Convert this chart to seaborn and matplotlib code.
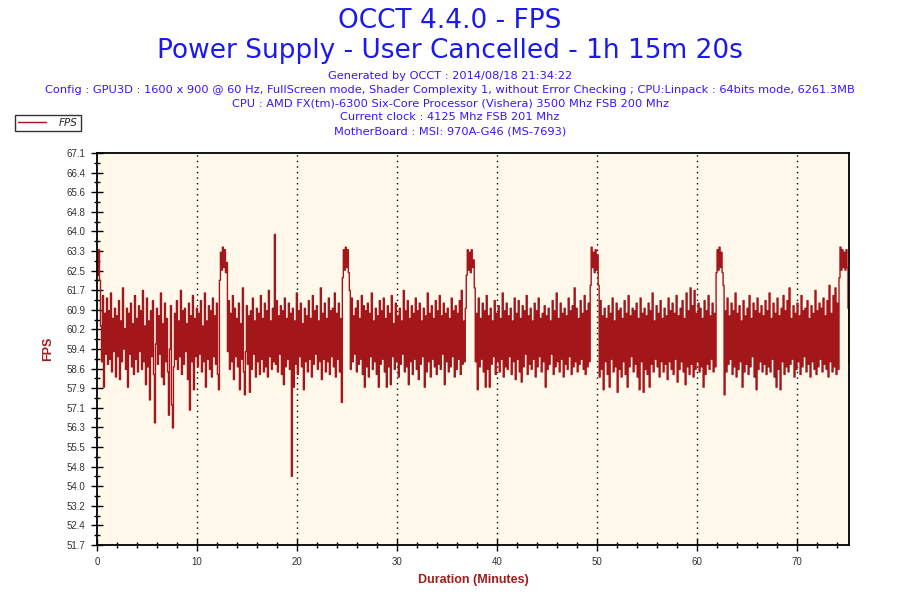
import numpy as np
import pandas as pd
import seaborn as sns
import matplotlib.pyplot as plt
from matplotlib.ticker import FixedLocator, MultipleLocator

sns.set_theme(style="white")
plt.rcParams["font.family"] = ["DejaVu Sans"]

#%% data (one sample every 0.1 minute)
step_min = 0.1
fps = [
    63.2, 62.3, 63.3, 62.1, 60.3, 58.9, 61.5, 57.9, 60.8, 59.2,
    61.4, 58.8, 60.9, 59.0, 61.6, 58.5, 60.6, 59.3, 61.0, 58.3,
    60.7, 59.1, 61.3, 58.2, 60.5, 58.9, 61.8, 59.4, 60.2, 58.6,
    61.0, 57.9, 60.8, 59.2, 61.2, 58.7, 60.4, 58.4, 61.5, 59.0,
    60.6, 58.5, 61.1, 59.3, 60.9, 58.6, 61.7, 58.9, 60.3, 58.0,
    61.4, 58.7, 60.5, 57.4, 60.9, 59.1, 61.3, 58.4, 56.5, 59.6,
    61.0, 58.8, 60.7, 59.2, 61.6, 58.3, 60.4, 58.0, 61.2, 58.9,
    60.6, 58.5, 56.8, 59.4, 61.1, 57.2, 56.3, 58.7, 60.8, 59.0,
    61.3, 58.6, 60.5, 59.1, 61.7, 58.4, 60.9, 58.8, 61.0, 59.3,
    60.4, 58.2, 61.2, 57.0, 60.7, 58.9, 61.5, 57.8, 60.6, 59.1,
    61.0, 58.7, 60.8, 59.2, 61.3, 58.5, 60.3, 58.9, 61.6, 57.9,
    60.5, 59.0, 61.1, 58.6, 60.9, 58.3, 61.4, 59.1, 60.7, 58.8,
    61.2, 58.4, 57.8, 62.1, 63.2, 62.5, 63.4, 62.6, 63.3, 62.4,
    62.8, 59.3, 61.3, 58.6, 60.8, 58.9, 61.5, 58.2, 61.0, 59.1,
    60.6, 58.7, 61.2, 57.8, 60.4, 59.0, 61.8, 58.5, 57.6, 59.3,
    61.1, 58.8, 60.7, 57.7, 60.9, 58.6, 61.4, 59.2, 60.5, 58.3,
    61.0, 58.9, 60.8, 58.4, 61.5, 59.0, 60.6, 58.5, 61.2, 58.7,
    60.9, 58.3, 61.7, 59.1, 60.5, 58.6, 61.0, 58.9, 63.9, 58.8,
    61.3, 58.5, 60.7, 59.2, 61.1, 58.4, 60.9, 58.0, 61.4, 58.7,
    60.6, 59.0, 61.2, 58.6, 60.8, 54.4, 61.0, 57.9, 60.5, 58.8,
    61.6, 58.4, 60.9, 59.1, 61.2, 58.7, 60.4, 57.8, 61.0, 58.9,
    60.7, 58.5, 61.3, 59.0, 60.6, 58.3, 61.5, 58.8, 60.9, 59.2,
    61.1, 58.6, 60.5, 58.9, 61.8, 58.2, 60.8, 59.0, 61.2, 58.5,
    60.6, 58.9, 61.4, 58.4, 60.9, 59.1, 61.0, 58.7, 61.6, 58.3,
    60.8, 59.0, 61.2, 58.5, 60.6, 57.3, 62.2, 63.3, 62.5, 63.4,
    62.6, 63.3, 62.4, 61.7, 58.6, 61.4, 58.9, 60.7, 59.2, 61.0,
    58.5, 61.3, 58.8, 60.6, 59.0, 61.5, 58.4, 61.1, 57.9, 60.9,
    58.7, 61.2, 58.3, 60.8, 59.1, 61.6, 58.6, 60.5, 58.9, 61.0,
    58.4, 60.7, 57.9, 61.3, 58.8, 60.9, 59.0, 61.4, 58.5, 60.6,
    57.9, 61.1, 58.7, 60.8, 58.0, 61.5, 59.1, 60.4, 58.6, 61.2,
    58.9, 60.7, 58.3, 61.0, 58.8, 60.5, 59.2, 61.7, 58.5, 60.9,
    58.7, 61.3, 58.0, 60.6, 58.9, 61.1, 58.4, 60.8, 59.0, 61.4,
    58.6, 60.9, 58.2, 61.2, 58.8, 60.5, 59.1, 61.0, 57.9, 60.7,
    58.5, 61.6, 58.9, 60.8, 58.3, 61.1, 59.0, 60.6, 58.7, 61.3,
    58.4, 60.9, 58.8, 61.5, 58.6, 60.7, 59.2, 61.2, 58.0, 60.8,
    58.9, 61.0, 58.5, 60.6, 58.7, 61.4, 59.1, 60.9, 58.3, 61.1,
    58.6, 60.8, 59.0, 61.3, 58.4, 61.7, 58.8, 60.5, 58.9, 61.0,
    62.3, 63.3, 62.5, 63.2, 62.4, 63.3, 62.6, 62.9, 61.8, 58.9,
    60.8, 57.8, 61.4, 58.7, 60.6, 59.0, 61.2, 58.5, 60.9, 57.9,
    61.5, 58.6, 60.7, 57.9, 61.0, 58.8, 60.5, 59.1, 61.3, 58.4,
    60.8, 58.9, 61.1, 58.5, 60.6, 59.0, 61.6, 58.3, 60.9, 58.7,
    61.2, 58.6, 60.7, 59.1, 61.0, 58.4, 60.5, 58.9, 61.4, 58.2,
    60.8, 59.0, 61.3, 58.5, 60.6, 58.1, 61.1, 58.7, 60.9, 59.2,
    61.5, 58.4, 60.7, 58.8, 61.0, 58.6, 60.5, 59.0, 61.2, 58.3,
    60.9, 58.7, 61.4, 59.1, 60.6, 58.5, 60.8, 58.9, 61.1, 57.9,
    60.7, 58.6, 61.0, 58.8, 60.5, 59.2, 61.3, 58.4, 60.9, 58.7,
    61.6, 58.9, 60.6, 58.5, 61.2, 59.0, 60.8, 58.3, 61.0, 58.8,
    60.7, 58.6, 61.4, 59.1, 60.9, 58.4, 61.1, 58.7, 61.8, 58.9,
    61.0, 58.5, 60.6, 58.8, 61.3, 59.0, 60.8, 58.6, 61.5, 58.4,
    60.9, 58.7, 61.2, 58.9, 61.9, 63.4, 62.6, 63.2, 62.4, 63.3,
    62.5, 63.1, 61.9, 58.3, 61.3, 58.6, 60.7, 57.8, 61.0, 58.9,
    60.6, 58.4, 61.1, 57.9, 60.8, 59.0, 61.4, 58.5, 60.5, 58.7,
    61.2, 57.7, 60.9, 58.6, 61.0, 58.3, 60.6, 58.9, 61.3, 58.4,
    60.8, 57.9, 61.5, 58.7, 60.7, 59.1, 61.0, 58.5, 60.9, 58.8,
    61.2, 58.3, 60.6, 57.8, 61.4, 58.9, 60.8, 57.7, 61.0, 58.6,
    60.7, 58.4, 61.2, 57.9, 60.9, 58.8, 61.6, 58.5, 60.5, 59.0,
    61.1, 58.7, 60.8, 58.3, 61.3, 58.9, 60.6, 58.5, 61.0, 58.8,
    60.7, 58.2, 61.4, 58.9, 60.9, 58.6, 61.2, 58.4, 60.8, 59.0,
    61.5, 58.1, 60.7, 58.6, 61.0, 58.9, 61.3, 58.5, 60.6, 58.0,
    61.6, 58.7, 60.9, 58.4, 61.8, 58.8, 61.1, 58.3, 61.7, 58.6,
    60.8, 58.9, 61.2, 58.5, 61.0, 58.7, 60.6, 57.9, 61.3, 58.4,
    60.9, 58.8, 61.5, 58.6, 60.7, 59.0, 61.2, 58.5, 60.8, 58.7,
    62.4, 63.3, 62.5, 63.4, 62.6, 63.2, 62.4, 61.9, 57.6, 60.9,
    58.5, 61.4, 58.8, 60.7, 59.0, 61.2, 58.4, 60.9, 58.7, 61.6,
    58.3, 60.8, 58.6, 61.1, 58.9, 60.5, 57.9, 61.3, 58.5, 60.7,
    58.8, 61.0, 58.4, 61.5, 58.7, 60.6, 59.1, 61.2, 58.3, 60.9,
    57.8, 61.4, 58.6, 60.8, 58.9, 61.1, 58.5, 60.7, 58.8, 61.3,
    58.4, 60.9, 58.7, 61.6, 58.5, 60.6, 59.0, 61.2, 58.3, 60.8,
    57.9, 61.4, 58.6, 60.7, 57.8, 61.0, 58.9, 61.5, 58.4, 60.9,
    58.7, 61.3, 58.5, 61.8, 58.8, 60.6, 59.0, 61.1, 58.3, 60.8,
    58.6, 61.2, 58.9, 60.7, 58.4, 61.5, 58.7, 60.9, 59.1, 61.0,
    58.5, 61.3, 58.8, 60.6, 58.3, 61.1, 58.9, 60.8, 58.6, 61.7,
    58.4, 60.9, 58.7, 61.2, 59.0, 61.0, 58.5, 61.4, 58.8, 60.7,
    58.6, 61.3, 58.3, 61.9, 58.9, 60.8, 58.5, 61.5, 58.7, 61.8,
    58.4, 61.2, 58.6, 62.2, 63.4, 62.5, 63.3, 62.6, 63.2, 62.5,
    63.3, 62.6, 61.0, 58.8,
]
minutes = np.arange(len(fps)) * step_min
df = pd.DataFrame({"Duration (Minutes)": minutes, "FPS": fps})

ytick_labels = ["51.7", "52.4", "53.2", "54.0", "54.8", "55.5", "56.3",
                "57.1", "57.9", "58.6", "59.4", "60.2", "60.9", "61.7",
                "62.5", "63.3", "64.0", "64.8", "65.6", "66.4", "67.1"]
xtick_labels = ["0", "10", "20", "30", "40", "50", "60", "70"]

title_lines = ["OCCT 4.4.0 - FPS", "Power Supply - User Cancelled - 1h 15m 20s"]
info_lines = [
    "Generated by OCCT : 2014/08/18 21:34:22",
    "Config : GPU3D : 1600 x 900 @ 60 Hz, FullScreen mode, Shader Complexity 1, "
    "without Error Checking ; CPU:Linpack : 64bits mode, 6261.3MB",
    "CPU : AMD FX(tm)-6300 Six-Core Processor (Vishera) 3500 Mhz FSB 200 Mhz",
    "Current clock : 4125 Mhz FSB 201 Mhz",
    "MotherBoard : MSI: 970A-G46 (MS-7693)",
]

line_col = "#A3161A"
label_col = "#A01C1C"

#%% figure
fig = plt.figure(figsize=(9, 6), dpi=100)
ax = fig.add_axes([97 / 900, 1 - 545 / 600, 752 / 900, 392 / 600])
ax.set_facecolor("#FFF8EB")

sns.lineplot(data=df, x="Duration (Minutes)", y="FPS", ax=ax, color=line_col,
             linewidth=1.0, estimator=None, label="FPS", legend=False,
             drawstyle="steps-mid")

ax.set_xlim(0, 75.25)
ax.set_ylim(51.7, 67.1)

yt = np.linspace(51.7, 67.1, len(ytick_labels))
ax.yaxis.set_major_locator(FixedLocator(yt))
ax.set_yticklabels(ytick_labels)
ax.yaxis.set_minor_locator(FixedLocator((yt[:-1] + yt[1:]) / 2))
xt = [float(v) for v in xtick_labels]
ax.set_xticks(xt)
ax.set_xticklabels(xtick_labels)
ax.xaxis.set_minor_locator(MultipleLocator(2))

ax.tick_params(axis="both", which="major", direction="inout", length=9, width=1,
               color="black", labelsize=7, labelcolor="#333333", pad=4,
               bottom=True, left=True)
ax.tick_params(axis="both", which="minor", direction="inout", length=5, width=1,
               color="black", bottom=True, left=True)
for lab in ax.get_xticklabels() + ax.get_yticklabels():
    lab.set_family("Liberation Sans")

for s in ax.spines.values():
    s.set_color("black")
    s.set_linewidth(1.3)

for v in xt[1:]:
    ax.axvline(v, color="black", linewidth=1, linestyle=(0, (1, 3)), zorder=0.5)

ax.set_xlabel("Duration (Minutes)", family="Liberation Sans", fontsize=9,
              fontweight="bold", color=label_col, labelpad=5.5)
ax.set_ylabel("FPS", family="Liberation Sans", fontsize=9,
              fontweight="bold", color=label_col, labelpad=8.5)

#%% titles and info text
fig.text(0.5, 1 - 21 / 600, title_lines[0], ha="center", va="center",
         fontsize=19, color="#1A1AF0")
fig.text(0.5, 1 - 51 / 600, title_lines[1], ha="center", va="center",
         fontsize=19, color="#1A1AF0")
for i, line in enumerate(info_lines):
    fig.text(0.5, 1 - (76 + 13.8 * i) / 600, line, ha="center", va="center",
             fontsize=8.2, color="#3A14FF")

handles, labels = ax.get_legend_handles_labels()
leg = fig.legend(handles, labels, loc="upper left",
                 bbox_to_anchor=(15 / 900, 1 - 115 / 600), borderaxespad=0,
                 frameon=True, fancybox=False, handlelength=2.7,
                 borderpad=0.3, handletextpad=1.2,
                 prop={"family": "DejaVu Sans", "style": "italic", "size": 7.5})
leg.get_frame().set_edgecolor("black")
leg.get_frame().set_linewidth(1)
for h in leg.legend_handles:
    h.set_linewidth(1)

fig.savefig("out.png", dpi=100)
